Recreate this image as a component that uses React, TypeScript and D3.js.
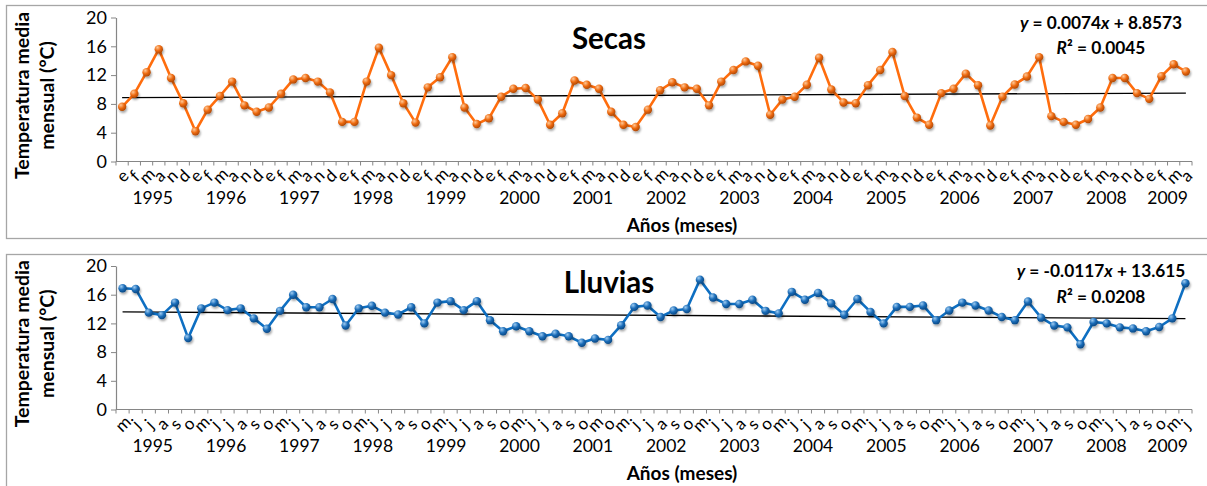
import React, { useEffect, useRef } from 'react';
import * as d3 from 'd3';

const years = ['1995', '1996', '1997', '1998', '1999', '2000', '2001', '2002', '2003', '2004', '2005', '2006', '2007', '2008', '2009'];

// dry season months per year (e = enero ... d = diciembre)
const secasMonths: string[][] = [
  ['e', 'f', 'm', 'a', 'n', 'd'],
  ['e', 'f', 'm', 'a', 'n', 'd'],
  ['e', 'f', 'm', 'a', 'n', 'd'],
  ['e', 'f', 'm', 'a', 'n', 'd'],
  ['e', 'f', 'm', 'a', 'n', 'd'],
  ['e', 'f', 'm', 'a', 'n', 'd'],
  ['e', 'f', 'm', 'a', 'n', 'd'],
  ['e', 'f', 'm', 'a', 'n', 'd'],
  ['e', 'f', 'm', 'a', 'n', 'd'],
  ['e', 'f', 'm', 'a', 'n', 'd'],
  ['e', 'f', 'm', 'a', 'n', 'd'],
  ['e', 'f', 'm', 'a', 'n', 'd'],
  ['e', 'f', 'm', 'a', 'n', 'd'],
  ['e', 'f', 'm', 'a', 'n', 'd'],
  ['e', 'f', 'm', 'a'],
];

const secasValues = [
  7.6, 9.4, 12.4, 15.6, 11.6, 8.1,
  4.2, 7.2, 9.1, 11.1, 7.8, 6.9,
  7.5, 9.4, 11.4, 11.6, 11.1, 9.6,
  5.5, 5.5, 11.1, 15.8, 12.0, 8.1,
  5.4, 10.3, 11.7, 14.5, 7.5, 5.2,
  6.0, 9.0, 10.1, 10.2, 8.6, 5.1,
  6.7, 11.25, 10.65, 10.1, 6.9, 5.1,
  4.8, 7.2, 9.9, 11.0, 10.3, 10.1,
  7.8, 11.1, 12.7, 13.9, 13.3, 6.5,
  8.6, 9.0, 10.65, 14.4, 10.0, 8.2,
  8.1, 10.6, 12.7, 15.2, 9.1, 6.1,
  5.1, 9.5, 10.1, 12.2, 10.6, 5.0,
  9.0, 10.7, 11.8, 14.5, 6.3, 5.5,
  5.1, 5.9, 7.5, 11.6, 11.6, 9.5,
  8.7, 11.85, 13.5, 12.5,
];

// rainy season months per year (m = mayo ... o = octubre)
const lluviasMonths: string[][] = [
  ['m', 'j', 'j', 'a', 's', 'o'],
  ['m', 'j', 'j', 'a', 's', 'o'],
  ['m', 'j', 'j', 'a', 's', 'o'],
  ['m', 'j', 'j', 'a', 's', 'o'],
  ['m', 'j', 'j', 'a', 's', 'o'],
  ['m', 'j', 'j', 'a', 's', 'o'],
  ['m', 'o'],
  ['m', 'j', 'j', 'a', 's', 'o'],
  ['m', 'j', 'j', 'a', 's', 'o'],
  ['m', 'j', 'j', 'a', 's', 'o'],
  ['m', 'j', 'j', 'a', 's', 'o'],
  ['m', 'j', 'j', 'a', 's', 'o'],
  ['m', 'j', 'j', 'a', 's', 'o'],
  ['m', 'j', 'j', 'a', 's', 'o'],
  ['m', 'j'],
];

const lluviasValues = [
  16.9, 16.8, 13.5, 13.15, 14.9, 9.95,
  14.1, 14.9, 13.85, 14.1, 12.7, 11.25,
  13.75, 16.0, 14.25, 14.25, 15.4, 11.7,
  14.1, 14.45, 13.5, 13.25, 14.25, 12.0,
  14.9, 15.1, 13.85, 15.1, 12.45, 10.9,
  11.6, 10.9, 10.2, 10.55, 10.2, 9.3,
  9.9, 9.7,
  11.75, 14.3, 14.5, 12.9, 13.8, 14.0,
  18.1, 15.6, 14.7, 14.7, 15.3, 13.75,
  13.4, 16.4, 15.3, 16.25, 14.8, 13.2,
  15.4, 13.6, 12.0, 14.3, 14.3, 14.5,
  12.45, 13.8, 14.9, 14.5, 13.8, 12.9,
  12.45, 15.05, 12.8, 11.7, 11.45, 9.1,
  12.2, 12.0, 11.45, 11.3, 10.9, 11.5,
  12.7, 17.6,
];

// linear trend lines as printed on the chart: [slope, intercept], x = 1..n
const secasFit = [0.0074, 8.8573];
const secasR2 = '0.0045';
const lluviasFit = [-0.0117, 13.615];
const lluviasR2 = '0.0208';

const yTicks = [0, 4, 8, 12, 16, 20];

const FONT = 'Lato, "Open Sans", sans-serif';
const W = 1207;
const H = 486;
const X0 = 116;
const X1 = 1192;

interface Panel {
  id: string;
  title: string;
  boxTop: number;
  boxBottom: number;
  plotTop: number;
  plotBottom: number;
  titleY: number;
  months: string[][];
  values: number[];
  fit: number[];
  r2: string;
  line: string;
  dot: string;
  light: string;
  dark: string;
}

const panels: Panel[] = [
  {
    id: 'secas', title: 'Secas', boxTop: 5.5, boxBottom: 238.5, plotTop: 17.5, plotBottom: 161.5, titleY: 49,
    months: secasMonths, values: secasValues, fit: secasFit, r2: secasR2,
    line: '#FF6D0D', dot: '#EE6A10', light: '#FFC896', dark: '#B24A05',
  },
  {
    id: 'lluvias', title: 'Lluvias', boxTop: 254.5, boxBottom: 520, plotTop: 266, plotBottom: 409.5, titleY: 293,
    months: lluviasMonths, values: lluviasValues, fit: lluviasFit, r2: lluviasR2,
    line: '#0E6FC2', dot: '#1A6CB8', light: '#9CCBF2', dark: '#0B4A86',
  },
];

export default function App() {
  const svgRef = useRef<SVGSVGElement>(null);

  useEffect(() => {
    if (!svgRef.current) return;
    const svg = d3.select(svgRef.current);
    svg.selectAll('*').remove();

    const defs = svg.append('defs');
    defs.append('filter')
      .attr('id', 'shadow')
      .attr('x', '-50%').attr('y', '-50%').attr('width', '200%').attr('height', '200%')
      .append('feDropShadow')
      .attr('dx', 1).attr('dy', 2).attr('stdDeviation', 1.3)
      .attr('flood-color', '#000').attr('flood-opacity', 0.35);

    // year labels: both panels put them where the dry-season groups fall
    const refBand = d3.scaleBand<number>()
      .domain(d3.range(d3.sum(secasMonths, m => m.length)))
      .range([X0, X1]);
    const yearCenters: number[] = [];
    let start = 0;
    secasMonths.forEach(m => {
      yearCenters.push(X0 + refBand.step() * (start + m.length / 2));
      start += m.length;
    });

    panels.forEach(p => {
      const grad = defs.append('radialGradient')
        .attr('id', `ball-${p.id}`)
        .attr('cx', '35%').attr('cy', '30%').attr('r', '70%');
      grad.append('stop').attr('offset', '0%').attr('stop-color', p.light);
      grad.append('stop').attr('offset', '55%').attr('stop-color', p.dot);
      grad.append('stop').attr('offset', '100%').attr('stop-color', p.dark);

      const g = svg.append('g');

      g.append('rect')
        .attr('x', 6.5).attr('y', p.boxTop)
        .attr('width', W + 20).attr('height', p.boxBottom - p.boxTop)
        .attr('fill', '#fff')
        .attr('stroke', '#a6a6a6').attr('stroke-width', 1.3);

      const cats: { m: string; year: number }[] = [];
      p.months.forEach((ms, yi) => ms.forEach(m => cats.push({ m, year: yi })));
      const n = cats.length;

      const x = d3.scaleBand<number>().domain(d3.range(n)).range([X0, X1]);
      const cx = (i: number) => (x(i) ?? 0) + x.bandwidth() / 2;
      const y = d3.scaleLinear().domain([0, 20]).range([p.plotBottom, p.plotTop]);

      // y axis
      const yAxis = g.append('g')
        .attr('transform', `translate(${X0},0)`)
        .call(d3.axisLeft(y).tickValues(yTicks).tickSize(5).tickSizeOuter(0).tickPadding(4));
      yAxis.select('.domain').attr('stroke', '#868686').attr('stroke-width', 1.2);
      yAxis.selectAll('.tick line').attr('stroke', '#868686');
      yAxis.selectAll('.tick text')
        .attr('font-family', FONT).attr('font-size', 18).attr('fill', '#000');

      // x axis line and ticks between categories
      g.append('line')
        .attr('x1', X0).attr('x2', X1)
        .attr('y1', p.plotBottom).attr('y2', p.plotBottom)
        .attr('stroke', '#868686').attr('stroke-width', 1.2);
      g.selectAll('.xtick')
        .data(d3.range(n + 1))
        .enter().append('line')
        .attr('x1', i => X0 + i * x.step()).attr('x2', i => X0 + i * x.step())
        .attr('y1', p.plotBottom).attr('y2', p.plotBottom + 4)
        .attr('stroke', '#868686');

      g.selectAll('.month')
        .data(cats)
        .enter().append('text')
        .attr('transform', (d, i) => `translate(${cx(i)},${p.plotBottom + 14}) rotate(-45)`)
        .attr('text-anchor', 'middle')
        .attr('dominant-baseline', 'central')
        .attr('font-family', FONT).attr('font-size', 17)
        .text(d => d.m);

      g.selectAll('.year')
        .data(years)
        .enter().append('text')
        .attr('x', (d, i) => yearCenters[i])
        .attr('y', p.plotBottom + 42)
        .attr('text-anchor', 'middle')
        .attr('font-family', FONT).attr('font-size', 17.5)
        .text(d => d);

      // axis titles
      g.append('text')
        .attr('x', 682).attr('y', p.plotBottom + 70)
        .attr('text-anchor', 'middle')
        .attr('font-family', FONT).attr('font-size', 19).attr('font-weight', 'bold')
        .text('Años (meses)');

      const yMid = (p.plotTop + p.plotBottom) / 2 + 6;
      const yt = g.append('text')
        .attr('transform', `translate(29,${yMid}) rotate(-90)`)
        .attr('text-anchor', 'middle')
        .attr('font-family', FONT).attr('font-size', 19.5).attr('font-weight', 'bold');
      yt.append('tspan').attr('x', 0).attr('dy', 0).text('Temperatura media');
      yt.append('tspan').attr('x', 0).attr('dy', 25).text('mensual (°C)');

      g.append('text')
        .attr('x', 609).attr('y', p.titleY)
        .attr('text-anchor', 'middle')
        .attr('font-family', FONT).attr('font-size', 29.5).attr('font-weight', 'bold')
        .text(p.title);

      // trend line
      const [slope, intercept] = p.fit;
      g.append('line')
        .attr('x1', cx(0)).attr('y1', y(intercept + slope * 1))
        .attr('x2', cx(n - 1)).attr('y2', y(intercept + slope * n))
        .attr('stroke', '#000').attr('stroke-width', 1.3);

      const line = d3.line<number>()
        .x((d, i) => cx(i))
        .y(d => y(d));

      g.append('path')
        .datum(p.values)
        .attr('fill', 'none')
        .attr('stroke', p.line)
        .attr('stroke-width', 2.6)
        .attr('stroke-linejoin', 'round')
        .attr('d', line);

      g.selectAll('.dot')
        .data(p.values)
        .enter().append('circle')
        .attr('cx', (d, i) => cx(i))
        .attr('cy', d => y(d))
        .attr('r', 4.2)
        .attr('fill', `url(#ball-${p.id})`)
        .attr('filter', 'url(#shadow)');

      // equation
      const eq = g.append('text')
        .attr('x', 1101).attr('y', p.plotTop + 11)
        .attr('text-anchor', 'middle')
        .attr('font-family', FONT).attr('font-size', 17.3).attr('font-weight', 'bold');
      eq.append('tspan').attr('font-style', 'italic').text('y');
      eq.append('tspan').text(` = ${slope}`);
      eq.append('tspan').attr('font-style', 'italic').text('x');
      eq.append('tspan').text(` + ${intercept}`);

      const r2 = g.append('text')
        .attr('x', 1101).attr('y', p.plotTop + 36.5)
        .attr('text-anchor', 'middle')
        .attr('font-family', FONT).attr('font-size', 17.3).attr('font-weight', 'bold');
      r2.append('tspan').attr('font-style', 'italic').text('R');
      r2.append('tspan').text(`² = ${p.r2}`);
    });
  }, []);

  return (
    <svg
      ref={svgRef}
      width={W}
      height={H}
      style={{ position: 'absolute', left: 0, top: 0, background: '#fff' }}
    />
  );
}
